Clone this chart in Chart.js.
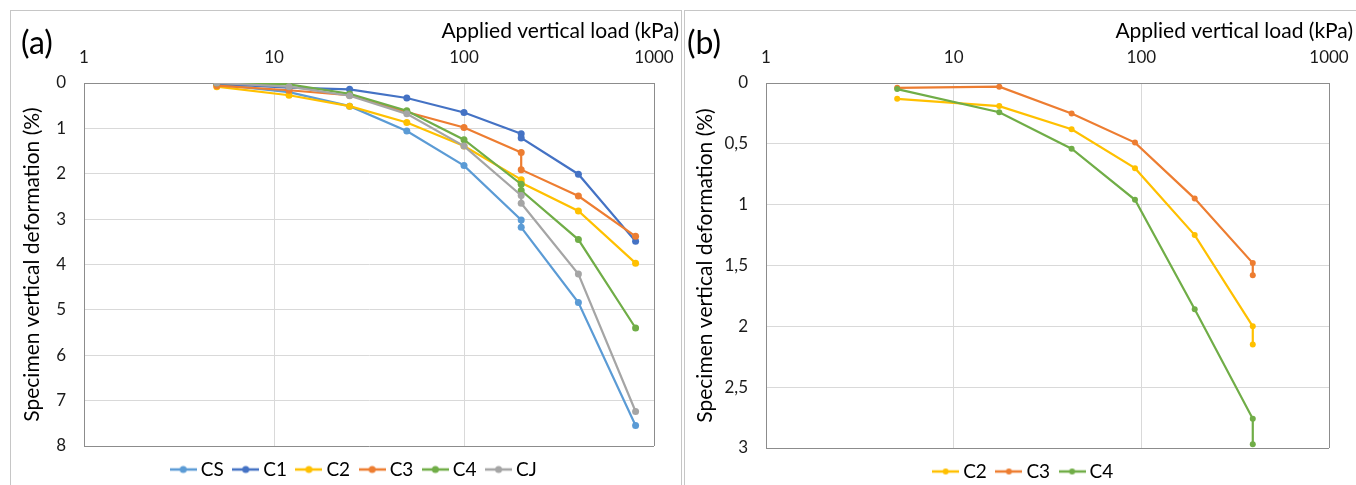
<!DOCTYPE html>
<html>
<head>
<meta charset="utf-8">
<title>Oedometer curves</title>
<script src="https://cdn.jsdelivr.net/npm/chart.js@4.4.0/dist/chart.umd.min.js"></script>
<style>
  html, body { margin: 0; padding: 0; background: #fff; overflow: hidden; }
  .panel { position: absolute; border: 1px solid #c6c6c6; }
  canvas { position: absolute; top: 0; }
</style>
</head>
<body>
<div class="panel" style="left:10px; top:10px; width:670px; height:500px;"></div>
<div class="panel" style="left:684px; top:10px; width:700px; height:500px;"></div>
<canvas id="chartA" style="left:0px;" width="682" height="485"></canvas>
<canvas id="chartB" style="left:682px;" width="674" height="485"></canvas>
<script>
// load steps in kPa (the 200 kPa step has two readings)
const loadsA = [5, 12, 25, 50, 100, 200, 200, 400, 800];
const defCS = [0.03, 0.20, 0.51, 1.06, 1.82, 3.02, 3.18, 4.84, 7.55];
const defC1 = [0.02, 0.10, 0.14, 0.33, 0.65, 1.12, 1.21, 2.01, 3.49];
const defC2 = [0.08, 0.27, 0.51, 0.87, 1.39, 2.13, 2.20, 2.82, 3.97];
const defC3 = [0.06, 0.16, 0.27, 0.64, 0.98, 1.53, 1.91, 2.49, 3.38];
const defC4 = [0.00, 0.03, 0.24, 0.61, 1.25, 2.23, 2.37, 3.45, 5.40];
const defCJ = [0.00, 0.08, 0.28, 0.68, 1.39, 2.48, 2.65, 4.21, 7.24];

// second test series (last step read twice)
const loadsB = [5, 17.5, 42.5, 92.5, 192.5, 392.5, 392.5];
const defB2 = [0.13, 0.19, 0.38, 0.70, 1.25, 2.00, 2.15];
const defB3 = [0.04, 0.03, 0.25, 0.49, 0.95, 1.48, 1.58];
const defB4 = [0.05, 0.24, 0.54, 0.96, 1.86, 2.76, 2.97];

const xTicks = [1, 10, 100, 1000];

const colors = {
    CS: '#5B9BD5', C1: '#4472C4', C2: '#FFC000',
    C3: '#ED7D31', C4: '#70AD47', CJ: '#A5A5A5'
};
const gridColor = '#d9d9d9';
const frameColor = '#8c8c8c';
const font = 'Lato';

Chart.defaults.font.family = font;
Chart.defaults.color = '#1a1a1a';

// small "line with dot" legend symbol
function lineMarker(color, r) {
    const c = document.createElement('canvas');
    c.width = 27; c.height = 10;
    const g = c.getContext('2d');
    g.strokeStyle = color; g.lineWidth = 2.5;
    g.beginPath(); g.moveTo(0, 5); g.lineTo(27, 5); g.stroke();
    g.fillStyle = color;
    g.beginPath(); g.arc(13.5, 5, r, 0, Math.PI * 2); g.fill();
    return c;
}

function makeDatasets(loads, series, radius) {
    const n = series.length;
    return series.map((s, i) => ({
        label: s.name,
        data: s.values.map((v, k) => ({ x: loads[k], y: v })),
        borderColor: colors[s.name],
        backgroundColor: colors[s.name],
        pointBackgroundColor: colors[s.name],
        pointBorderColor: colors[s.name],
        pointRadius: radius,
        pointBorderWidth: 0,
        borderWidth: 2.2,
        tension: 0,
        order: n - i
    }));
}

// letter, x axis title and legend offset for each panel
const panelText = {
    id: 'panelText',
    afterLayout(chart, args, opts) {
        chart.legend.left += opts.legendShift;
        chart.legend.right += opts.legendShift;
    },
    afterDraw(chart, args, opts) {
        const ctx = chart.ctx;
        ctx.save();
        ctx.fillStyle = '#000';
        ctx.textBaseline = 'middle';
        ctx.textAlign = 'left';
        ctx.font = '32px ' + font;
        ctx.fillText(opts.letter, opts.letterX, opts.letterY);
        ctx.font = '21px ' + font;
        ctx.textAlign = 'right';
        ctx.fillText('Applied vertical load (kPa)', opts.titleX, opts.titleY);
        ctx.restore();
    }
};

function makeOptions(cfg) {
    return {
        responsive: false,
        animation: false,
        layout: { padding: { left: 0, right: cfg.padRight, top: 0, bottom: cfg.padBottom } },
        scales: {
            x: {
                type: 'logarithmic',
                position: 'top',
                min: 1,
                max: 1000,
                afterBuildTicks: (s) => { s.ticks = xTicks.map(v => ({ value: v })); },
                afterFit: (s) => { s.height = 83; s.paddingLeft = 0; s.paddingRight = 0; },
                ticks: {
                    autoSkip: false, maxRotation: 0, padding: 15,
                    font: { size: 17 },
                    callback: (v) => String(v)
                },
                grid: {
                    drawTicks: false,
                    color: (c) => (c.tick && c.tick.value === 1000) ? frameColor : gridColor,
                    lineWidth: 1
                },
                border: { color: frameColor, width: 1 }
            },
            y: {
                reverse: true,
                min: 0,
                max: cfg.yMax,
                afterFit: (s) => { s.width = 84; s.paddingTop = 0; s.paddingBottom = 0; },
                ticks: {
                    stepSize: cfg.yStep, padding: cfg.yTickPad,
                    font: { size: 17 },
                    callback: (v) => String(v).replace('.', ',')
                },
                grid: {
                    drawTicks: false,
                    color: (c) => (c.tick && c.tick.value === cfg.yMax) ? frameColor : gridColor,
                    lineWidth: 1
                },
                border: { color: frameColor, width: 1 },
                title: {
                    display: true,
                    text: 'Specimen vertical deformation (%)',
                    color: '#000',
                    font: { size: 21 },
                    padding: { top: cfg.yTitlePad, bottom: 0 }
                }
            }
        },
        plugins: {
            tooltip: { enabled: false },
            legend: {
                position: 'bottom',
                labels: {
                    usePointStyle: true,
                    pointStyleWidth: 16,
                    padding: 14,
                    color: '#000',
                    font: { size: 19 },
                    sort: (a, b) => a.datasetIndex - b.datasetIndex,
                    generateLabels(chart) {
                        const items = Chart.defaults.plugins.legend.labels.generateLabels(chart);
                        items.forEach(it => {
                            const ds = chart.data.datasets[it.datasetIndex];
                            it.pointStyle = lineMarker(ds.borderColor, cfg.markerR);
                        });
                        return items;
                    }
                }
            },
            panelText: cfg.text
        }
    };
}

new Chart(document.getElementById('chartA'), {
    type: 'line',
    data: {
        datasets: makeDatasets(loadsA, [
            { name: 'CS', values: defCS },
            { name: 'C1', values: defC1 },
            { name: 'C2', values: defC2 },
            { name: 'C3', values: defC3 },
            { name: 'C4', values: defC4 },
            { name: 'CJ', values: defCJ }
        ], 3.5)
    },
    options: makeOptions({
        padRight: 28, padBottom: -4, yMax: 8, yStep: 1, yTickPad: 18, yTitlePad: 20,
        markerR: 3.5,
        text: { letter: '(a)', letterX: 21, letterY: 44, titleX: 679, titleY: 31, legendShift: 29 }
    }),
    plugins: [panelText]
});

new Chart(document.getElementById('chartB'), {
    type: 'line',
    data: {
        datasets: makeDatasets(loadsB, [
            { name: 'C2', values: defB2 },
            { name: 'C3', values: defB3 },
            { name: 'C4', values: defB4 }
        ], 3)
    },
    options: makeOptions({
        padRight: 27, padBottom: -6, yMax: 3, yStep: 0.5, yTickPad: 18, yTitlePad: 11,
        markerR: 3,
        text: { letter: '(b)', letterX: 5, letterY: 44, titleX: 671, titleY: 31, legendShift: 20 }
    }),
    plugins: [panelText]
});
</script>
</body>
</html>
